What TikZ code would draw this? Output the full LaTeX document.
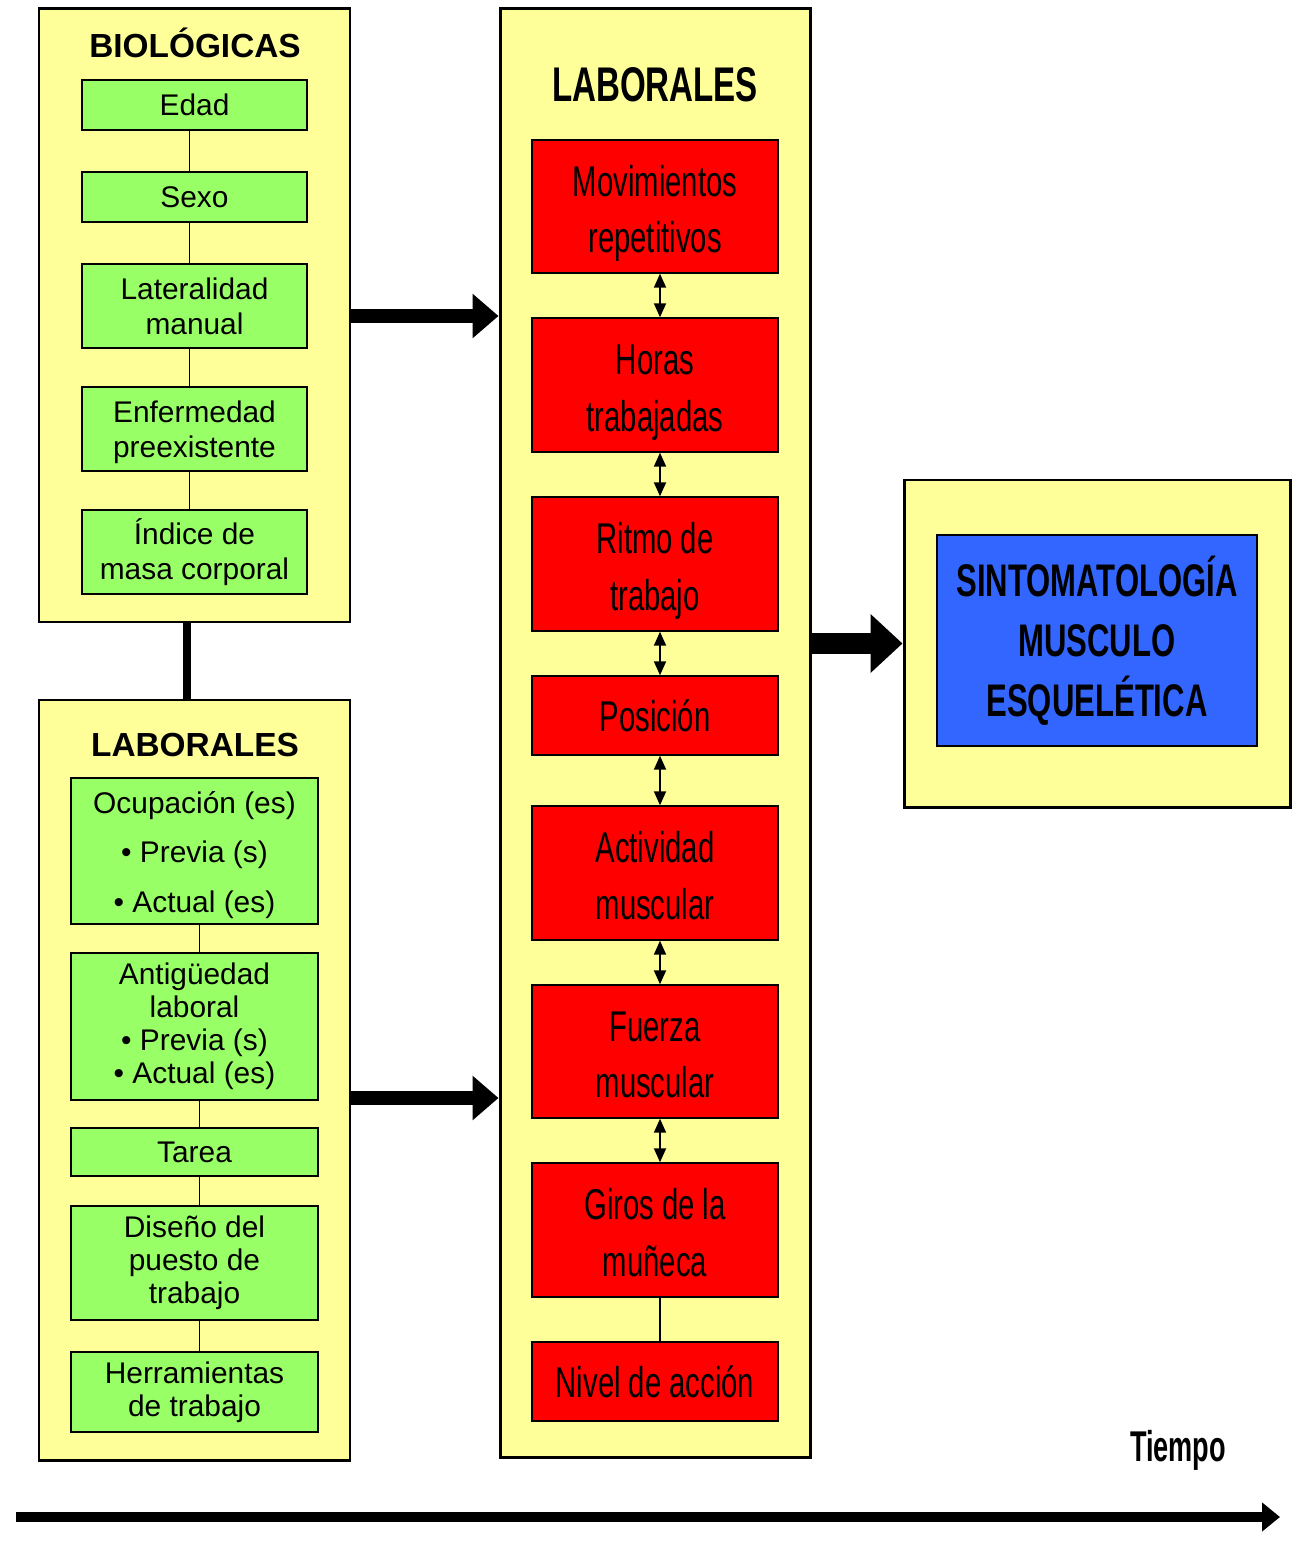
\documentclass[tikz,border=0pt]{standalone}
\usepackage{fontspec}
\setmainfont{Liberation Sans}
\newfontfamily\angosta[FakeStretch=0.68]{Liberation Sans}
\newfontfamily\masangosta[FakeStretch=0.63]{Liberation Sans}
\usetikzlibrary{arrows.meta}
\definecolor{amarillo}{HTML}{FFFF99}
\definecolor{verde}{HTML}{99FF66}
\definecolor{rojo}{HTML}{FF0000}
\definecolor{azul}{HTML}{3366FF}
\newcommand{\alto}{\rule{0pt}{26pt}}
\newcommand{\bajo}{\rule[-5.5pt]{0pt}{5.5pt}}
\begin{document}
\begin{tikzpicture}[
    panel/.style={draw, fill=amarillo, line width=1.7pt, minimum width=#1, inner sep=0pt},
    factor/.style={draw, fill=verde, line width=0.8pt, align=center, inner sep=0pt,
        font=\fontsize{17}{20}\selectfont},
    factorb/.style={factor, minimum width=4.94cm, font=\fontsize{17}{18.7}\selectfont},
    carga/.style={draw, fill=rojo, line width=0.8pt, align=center, inner sep=0pt,
        minimum width=4.92cm, font=\angosta\fontsize{24.5}{32.3}\selectfont},
    titulo/.style={font=\bfseries\fontsize{19}{22}\selectfont},
    enlace/.style={line width=0.6pt},
    doble/.style={line width=1.1pt, {Triangle[length=0.28cm,width=0.24cm]}-{Triangle[length=0.28cm,width=0.24cm]}},
    flecha/.style={line width=8pt, -{Triangle[length=0.52cm,width=0.86cm]}}
]
    \useasboundingbox (0,0) rectangle (26.22,-30.84);

    % Paneles amarillos
    \node[panel=6.22cm, minimum height=12.26cm] (bio) at (3.89,-6.31) {};
    \node[panel=6.22cm, minimum height=15.2cm] (lab) at (3.89,-21.6) {};
    \node[panel=6.2cm, minimum height=28.96cm] (mid) at (13.1,-14.66) {};
    \node[panel=7.72cm, minimum height=6.54cm] (sint) at (21.94,-12.87) {};

    % Union entre paneles de la izquierda
    \draw[line width=4.5pt] ([xshift=-1.5mm]bio.south) -- ([xshift=-1.5mm]lab.north);

    % Factores biologicos
    \node[titulo] (tbio) at (3.9,-0.86) {BIOLÓGICAS};
    \node[factor, minimum width=4.5cm, minimum height=1cm] (edad) at (3.89,-2.1) {Edad};
    \node[factor, minimum width=4.5cm, minimum height=1cm] (sexo) at (3.89,-3.94) {Sexo};
    \node[factor, minimum width=4.5cm, minimum height=1.68cm] (lat) at (3.89,-6.12) {Lateralidad\\manual};
    \node[factor, minimum width=4.5cm, minimum height=1.68cm] (enf) at (3.89,-8.58) {\rule{0pt}{16pt}Enfermedad\\preexistente};
    \node[factor, minimum width=4.5cm, minimum height=1.68cm] (imc) at (3.89,-11.04) {Índice de\\masa corporal};
    \foreach \a/\b in {edad/sexo, sexo/lat, lat/enf, enf/imc}
        \draw[enlace] ([xshift=-1mm]\a.south) -- ([xshift=-1mm]\b.north);

    % Factores laborales (izquierda)
    \node[titulo] (tlab) at (3.9,-14.9) {LABORALES};
    \node[factorb, minimum height=2.92cm] (ocup) at (3.89,-17.02)
        {\rule{0pt}{17pt}Ocupación (es)\\[9.6pt] • Previa (s)\\[9.6pt] • Actual (es)};
    \node[factorb, minimum height=2.94cm] (ant) at (3.89,-20.53)
        {Antigüedad\\laboral\\ • Previa (s)\\ • Actual (es)};
    \node[factorb, minimum height=0.96cm] (tarea) at (3.89,-23.04) {Tarea};
    \node[factorb, minimum height=2.28cm] (dis) at (3.89,-25.26) {Diseño del\\puesto de\\trabajo};
    \node[factorb, minimum height=1.6cm] (herr) at (3.89,-27.84) {Herramientas\\de trabajo};
    \foreach \a/\b in {ocup/ant, ant/tarea, tarea/dis, dis/herr}
        \draw[enlace] ([xshift=1mm]\a.south) -- ([xshift=1mm]\b.north);

    % Cargas laborales (centro)
    \node[font=\angosta\bfseries\fontsize{27.7}{32}\selectfont] (tmid) at (13.1,-1.7) {LABORALES};
    \node[carga, minimum height=2.66cm] (mov) at (13.1,-4.13) {\alto Movimientos\\repetitivos\bajo};
    \node[carga, minimum height=2.68cm] (horas) at (13.1,-7.7) {\alto Horas\\trabajadas\bajo};
    \node[carga, minimum height=2.68cm] (ritmo) at (13.1,-11.28) {\alto Ritmo de\\trabajo\bajo};
    \node[carga, minimum height=1.58cm] (pos) at (13.1,-14.31) {Posición};
    \node[carga, minimum height=2.68cm] (act) at (13.1,-17.46) {\alto Actividad\\muscular\bajo};
    \node[carga, minimum height=2.66cm] (fza) at (13.1,-21.03) {\alto Fuerza\\muscular\bajo};
    \node[carga, minimum height=2.68cm] (giros) at (13.1,-24.6) {\alto Giros de la\\muñeca\bajo};
    \node[carga, minimum height=1.58cm] (nivel) at (13.1,-27.63) {Nivel de acción};
    \foreach \a/\b in {mov/horas, horas/ritmo, ritmo/pos, pos/act, act/fza, fza/giros}
        \draw[doble] ([xshift=1mm]\a.south) -- ([xshift=1mm]\b.north);
    \draw[enlace] ([xshift=1mm]giros.south) -- ([xshift=1mm]nivel.north);

    % Resultado
    \node[draw, fill=azul, line width=0.8pt, minimum width=6.4cm, minimum height=4.22cm,
        align=center, font=\angosta\bfseries\fontsize{26}{34.2}\selectfont] (sme) at (21.94,-12.81)
        {SINTOMATOLOGÍA\\MUSCULO\\ESQUELÉTICA};

    % Flechas gruesas
    \coordinate (a1) at (7.0,-6.32);
    \coordinate (a2) at (7.0,-21.96);
    \draw[flecha] (a1) -- (a1 -| mid.west);
    \draw[flecha] (a2) -- (a2 -| mid.west);
    \draw[line width=12pt, -{Triangle[length=0.64cm,width=1.14cm]}] (mid.east |- sint.west) -- (sint.west);

    % Tiempo
    \node[font=\masangosta\bfseries\fontsize{24.5}{28}\selectfont] (tiempo) at (23.56,-29.0) {Tiempo};
    \coordinate (t0) at (0.32,-30.34);
    \coordinate (t1) at (25.6,-30.34);
    \draw[line width=5.6pt, -{Triangle[length=0.36cm,width=0.56cm]}] (t0) -- (t1);
\end{tikzpicture}
\end{document}
